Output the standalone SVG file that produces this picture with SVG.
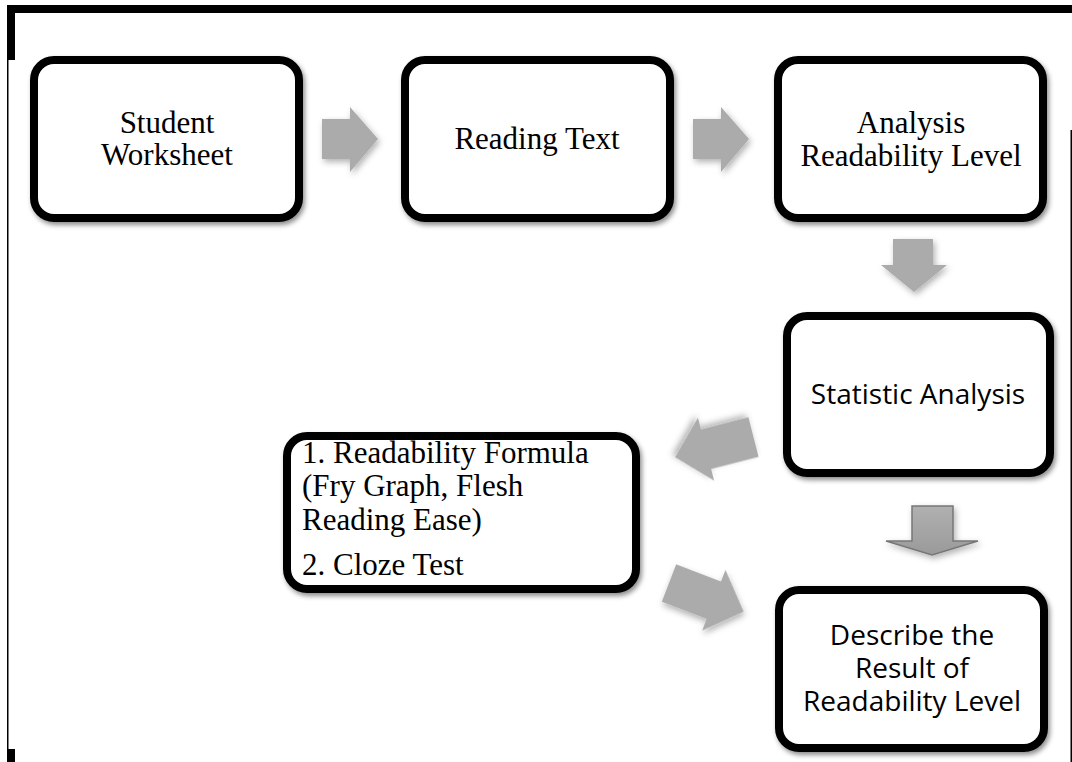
<svg xmlns="http://www.w3.org/2000/svg" width="1072" height="762" viewBox="0 0 1072 762">
<defs>
<filter id="sh" x="-20%" y="-20%" width="140%" height="140%">
<feDropShadow dx="2" dy="3" stdDeviation="2.5" flood-color="#000" flood-opacity="0.45"/>
</filter>
<filter id="ash" x="-30%" y="-30%" width="160%" height="160%">
<feDropShadow dx="2" dy="3" stdDeviation="3" flood-color="#000" flood-opacity="0.3"/>
</filter>
<linearGradient id="g5" x1="0" y1="0" x2="0" y2="1">
<stop offset="0" stop-color="#b0b0b0"/>
<stop offset="1" stop-color="#9a9a9a"/>
</linearGradient>
</defs>
<style>
.box{fill:#fff;stroke:#000;stroke-width:8;filter:url(#sh)}
.serif{font-family:"Liberation Serif","Times New Roman",serif;font-size:31px;fill:#000}
.sans{font-family:"Open Sans","Noto Sans",sans-serif;font-size:28px;fill:#000}
.arr{fill:#ababab;filter:url(#ash)}
</style>
<rect width="1072" height="762" fill="#fff"/>
<g id="frame">
<rect x="7" y="5" width="1065" height="8" fill="#000"/>
<rect x="7" y="5" width="8" height="55" fill="#000"/>
<rect x="7" y="60" width="1.5" height="702" fill="#000"/>
<rect x="7" y="749" width="8" height="13" fill="#000"/>
<rect x="1070.5" y="130" width="1.5" height="632" fill="#000"/>
</g>
<g id="connectors">
<path class="arr" d="M322,119 H350 V107 L378,139 L350,172 V159 H322 Z"/>
<path class="arr" d="M693,119 H721 V107 L749,139 L721,172 V159 H693 Z"/>
<path class="arr" d="M893,239 H933 V265 H947 L914,292 L881,265 H893 Z"/>
<path class="arr" transform="translate(753.5,437) rotate(165.6)" d="M0,-20.5 H49 V-32.5 L81,0 L49,32.5 V20.5 H0 Z"/>
<path class="arr" transform="translate(669,583) rotate(21)" d="M0,-20 H48 V-32.5 L80,0 L48,32.5 V20 H0 Z"/>
<path d="M912,506 H953 V541 H978 L932,555 L886,541 H912 Z" fill="url(#g5)" stroke="#777" stroke-width="1.5" filter="url(#ash)"/>
</g>
<g id="n1">
<rect class="box" x="34" y="60" width="265" height="158" rx="20"/>
<text class="serif" text-anchor="middle" x="167" y="133">Student</text>
<text class="serif" text-anchor="middle" x="167" y="165">Worksheet</text>
</g>
<g id="n2">
<rect class="box" x="405" y="60" width="265" height="158" rx="20"/>
<text class="serif" text-anchor="middle" x="537" y="149">Reading Text</text>
</g>
<g id="n3">
<rect class="box" x="778" y="60" width="265" height="158" rx="20"/>
<text class="serif" text-anchor="middle" x="911" y="133">Analysis</text>
<text class="serif" text-anchor="middle" x="911" y="166">Readability Level</text>
</g>
<g id="n4">
<rect class="box" x="787" y="316" width="263" height="157" rx="20"/>
<text class="sans" text-anchor="middle" x="918" y="404">Statistic Analysis</text>
</g>
<g id="n5">
<rect class="box" x="287" y="436" width="349" height="153" rx="20"/>
<text class="serif" x="302" y="463">1. Readability Formula</text>
<text class="serif" x="302" y="496">(Fry Graph, Flesh</text>
<text class="serif" x="302" y="530">Reading Ease)</text>
<text class="serif" x="302" y="575">2. Cloze Test</text>
</g>
<g id="n6">
<rect class="box" x="779" y="590" width="265" height="158" rx="20"/>
<text class="sans" text-anchor="middle" x="912" y="645">Describe the</text>
<text class="sans" text-anchor="middle" x="912" y="678">Result of</text>
<text class="sans" text-anchor="middle" x="912" y="711">Readability Level</text>
</g>
</svg>
